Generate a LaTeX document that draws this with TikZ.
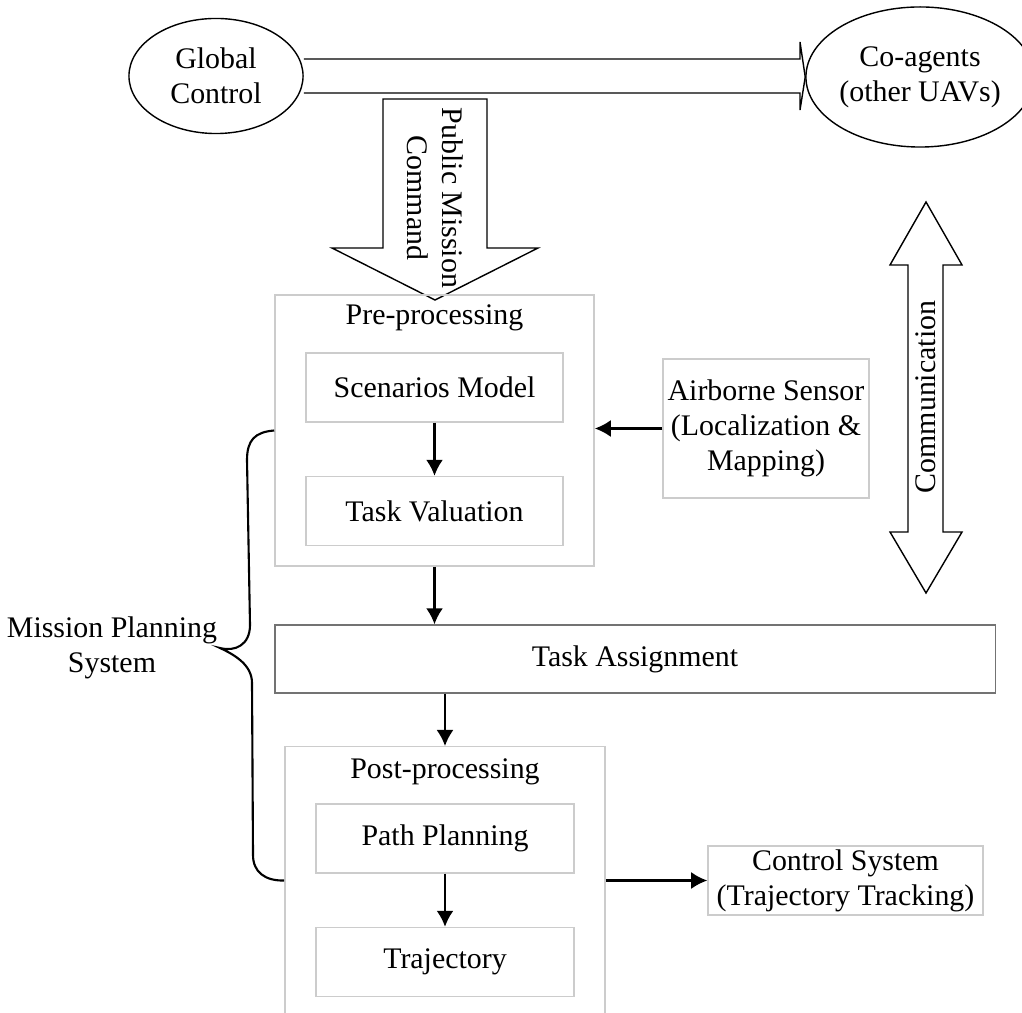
\documentclass[tikz,border=0pt]{standalone}
\usepackage{fontspec}
\setmainfont{Liberation Serif}
\usetikzlibrary{shapes.geometric,arrows.meta,positioning}

\tikzset{
  box/.style={draw=black!20, line width=0.4pt, align=center, inner sep=0pt},
  oval/.style={ellipse, draw, line width=0.4pt, align=center, inner sep=0pt},
  hollow/.style={draw, line width=0.4pt, line join=miter},
  arr/.style={line width=0.6pt, -{Latex[length=0.16cm,width=0.17cm]}},
}

\begin{document}
\begin{tikzpicture}[x=0.01cm, y=-0.01cm, font=\fontsize{8.5pt}{10pt}\selectfont]
        \useasboundingbox (0,0) rectangle (1022,1013);
        \clip (0,0) rectangle (1022,1013);

        % outer agents
        \node[oval, minimum width=1.74cm, minimum height=1.15cm] (glob) at (216,76) {Global\\Control};
        \node[oval, minimum width=2.06cm, minimum height=1.40cm] (coag) at (920,77) {Co-agents\\(other UAVs)};

        % big hollow arrows
        \draw[hollow] (glob.east |- 0,59) -- (800,59) -- (800,42) -- (coag.west) -- (800,110) -- (800,93) -- (glob.east |- 0,93);
        \draw[hollow] (383,99) -- (383,248) -- (332,248) -- (435,300) -- (538,248) -- (487,248) -- (487,99) -- cycle;
        \node[rotate=-90, align=center] (pmc) at (435,198) {Public Mission\\Command};

        \draw[hollow] (926,202) -- (962,265) -- (943,265) -- (943,532) -- (962,532) -- (926,593)
              -- (890,532) -- (908,532) -- (908,265) -- (890,265) -- cycle;
        \node[rotate=90] (comm) at (926,397) {Communication};

        % pre-processing
        \node[box, minimum width=3.19cm, minimum height=2.71cm] (pre) at (434.5,430.5) {};
        \node (prelbl) at (434.5,318) {Pre-processing};
        \node[box, minimum width=2.57cm, minimum height=0.69cm] (scen) at (434.5,387.5) {Scenarios Model};
        \node[box, minimum width=2.57cm, minimum height=0.69cm] (tval) at (434.5,511) {Task Valuation};
        \node[box, minimum width=2.06cm, minimum height=1.39cm] (sensor) at (766,428.5) {Airborne Sensor\\(Localization \&\\Mapping)};

        % assignment
        \node[box, draw=black!55, minimum width=7.20cm, minimum height=0.68cm] (assign) at (635,659) {Task Assignment};

        % post-processing
        \node[box, anchor=north, minimum width=3.20cm, minimum height=3.0cm] (post) at (445,746) {};
        \node (postlbl) at (445,772) {Post-processing};
        \node[box, minimum width=2.58cm, minimum height=0.69cm] (plan) at (445,838.5) {Path Planning};
        \node[box, minimum width=2.58cm, minimum height=0.69cm] (traj) at (445,962) {Trajectory};
        \node[box, minimum width=2.75cm, minimum height=0.69cm] (ctrl) at (845.5,880.5) {Control System\\(Trajectory Tracking)};

        \node[align=center] (mps) at (112,648) {Mission Planning\\System};

        % connectors
        \draw[arr] (scen) -- (tval);
        \draw[arr] (sensor.west) -- (sensor.west -| pre.east);
        \draw[arr] (pre.south) -- (pre.south |- assign.north);
        \draw[arr] (assign.south -| post.north) -- (post.north);
        \draw[arr] (plan) -- (traj);
        \draw[arr] (post.east |- ctrl.west) -- (ctrl.west);

        % brace
        \draw[line width=0.6pt] (pre.west) .. controls (255,432) and (247,440) .. (247,460) -- (250,625)
              .. controls (250,645) and (235,652) .. (mps.east -| 220,0) .. controls (235,655) and (252,665) .. (252,683)
              -- (253,855) .. controls (253,872) and (265,881) .. (post.west |- ctrl.west);
\end{tikzpicture}
\end{document}
